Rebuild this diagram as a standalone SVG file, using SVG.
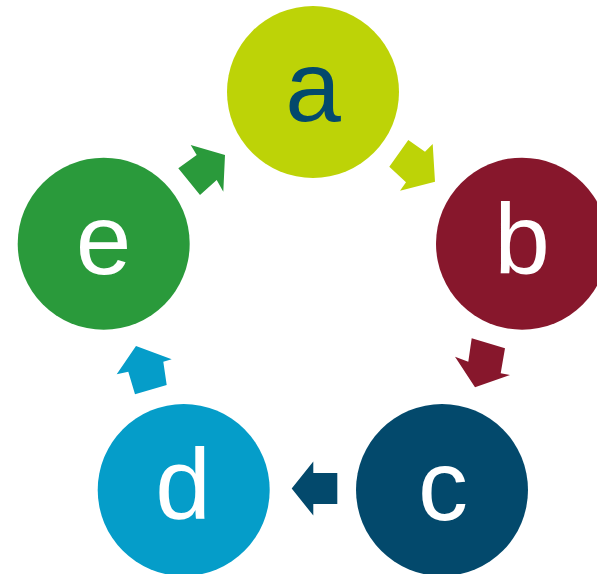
<svg xmlns="http://www.w3.org/2000/svg" width="597" height="574" viewBox="0 0 597 574">
<style>
.lbl{font-family:"Liberation Sans",Arial,sans-serif;font-size:100px;text-anchor:middle}
.w{fill:#ffffff}
</style>
<rect width="597" height="574" fill="#ffffff"/>
<g id="connectors">
<polygon points="389.3,166.7 408.3,140 425,151.7 432.7,144 435,181.7 400,190.7 406,182.3" fill="#BDD307"/>
<polygon points="471.7,338.3 505,348.3 500.7,373.3 510,375 475,387.3 455,356.7 468.3,361.7" fill="#87172C"/>
<polygon points="337.3,473 313.3,473 313.3,461.5 291.7,488.5 313.3,515.5 313.3,504 337.3,504" fill="#03496C"/>
<polygon points="116.7,374.3 136,346 171.7,359.3 163.3,361.7 166.7,385 135,394.3 128.3,371.7" fill="#059DC9"/>
<polygon points="178.3,168.3 196.7,155 190.7,145 225,155 223.3,191.7 216.7,180 200,195" fill="#2A9A3B"/>
</g>
<g id="node-a">
<circle cx="313" cy="92" r="86" fill="#BDD307"/>
<text class="lbl" x="313" y="121" fill="#03496C">a</text>
</g>
<g id="node-b">
<circle cx="522" cy="243.7" r="86" fill="#87172C"/>
<text class="lbl w" x="522" y="273.5">b</text>
</g>
<g id="node-c">
<circle cx="442" cy="490" r="86" fill="#03496C"/>
<text class="lbl w" x="443" y="520">c</text>
</g>
<g id="node-d">
<circle cx="183.7" cy="490" r="86" fill="#059DC9"/>
<text class="lbl w" x="183" y="519">d</text>
</g>
<g id="node-e">
<circle cx="103.7" cy="243.7" r="86" fill="#2A9A3B"/>
<text class="lbl w" x="103.5" y="273.5">e</text>
</g>
</svg>
